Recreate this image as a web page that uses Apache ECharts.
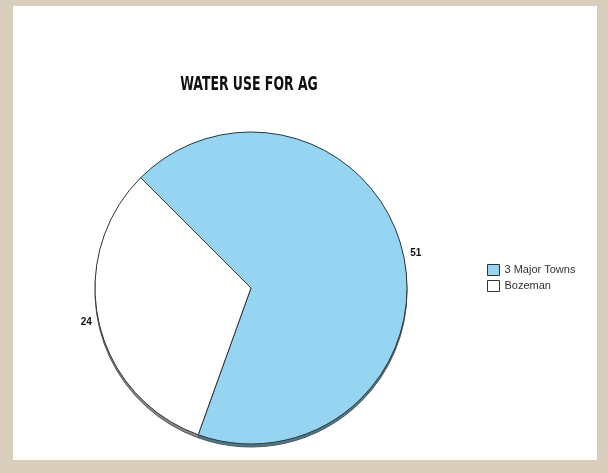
<!DOCTYPE html>
<html>
<head>
<meta charset="utf-8">
<script src="https://cdn.jsdelivr.net/npm/echarts@6/dist/echarts.min.js"></script>
<style>
html,body{margin:0;padding:0;background:#d9cdbb;}
#chart{width:608px;height:473px;}
</style>
</head>
<body>
<div id="chart"></div>
<script>
var titleText = 'WATER USE FOR AG';
var categories = ['3 Major Towns', 'Bozeman'];
var values = [51, 24];
var sliceColors = ['#95d5f2', '#ffffff'];
var edgeColors = ['#3f7f95', '#8a8a8a'];

var chart = echarts.init(document.getElementById('chart'));
var mainData = categories.map(function (c, i) {
  return { name: c, value: values[i], itemStyle: { color: sliceColors[i] } };
});
var shadowData = categories.map(function (c, i) {
  return { name: c, value: values[i], itemStyle: { color: edgeColors[i] } };
});
var legendData = categories.map(function (c, i) {
  return { name: c, itemStyle: { color: sliceColors[i], borderColor: '#333', borderWidth: 1 } };
});
chart.setOption({
  backgroundColor: '#d9cdbb',
  animation: false,
  graphic: [{
    type: 'rect', z: -10, silent: true,
    shape: { x: 13, y: 6, width: 584, height: 454 },
    style: { fill: '#ffffff' }
  }, {
    type: 'text', z: 10, silent: true,
    x: 249, y: 85, scaleX: 0.73,
    style: {
      text: titleText, align: 'center', verticalAlign: 'middle',
      fontFamily: 'DejaVu Sans Condensed, DejaVu Sans, sans-serif', fontWeight: 'bold', fontSize: 19, fill: '#111'
    }
  }],
  legend: {
    orient: 'vertical',
    left: 482, top: 259,
    itemWidth: 12, itemHeight: 11, itemGap: 4,
    icon: 'rect',
    selectedMode: false,
    data: legendData,
    textStyle: { fontFamily: 'Liberation Sans, Arial, sans-serif', fontSize: 11, color: '#333' }
  },
  series: [{
    type: 'pie',
    silent: true,
    center: [251, 291],
    radius: 156,
    startAngle: 135,
    label: { show: false },
    labelLine: { show: false },
    itemStyle: { borderColor: '#555', borderWidth: 1 },
    z: 1,
    data: shadowData
  }, {
    type: 'pie',
    silent: true,
    center: [251, 288],
    radius: 156,
    startAngle: 135,
    label: {
      show: true, position: 'outside', formatter: '{c}',
      fontFamily: 'Liberation Sans, Arial, sans-serif', fontWeight: 'bold', fontSize: 10, color: '#111'
    },
    labelLine: { show: false, length: 2, length2: 0 },
    itemStyle: { borderColor: '#333', borderWidth: 1 },
    z: 2,
    data: mainData
  }]
});
</script>
</body>
</html>
